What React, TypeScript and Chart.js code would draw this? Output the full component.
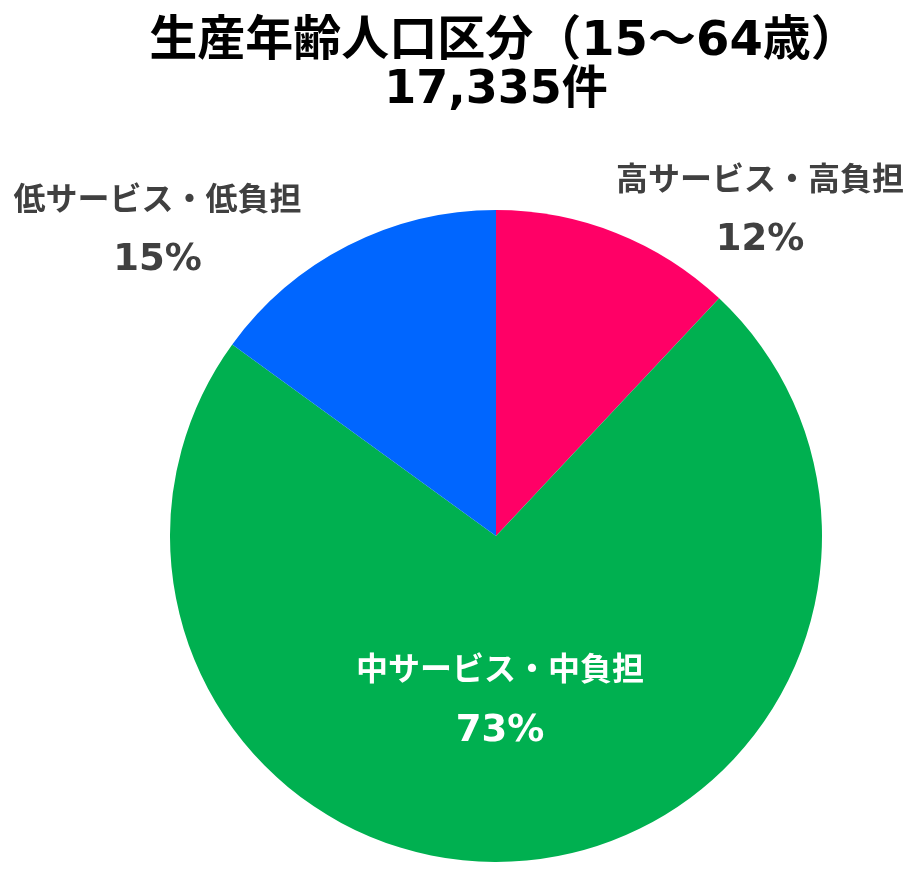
import { Chart, registerables } from "chart.js";
import type { Plugin } from "chart.js";
import { useEffect, useRef } from "react";

Chart.register(...registerables);

const titleLines = ["生産年齢人口区分（15～64歳）", "17,335件"];
const titleSizes = [48, 46];
const categories = ["高サービス・高負担", "中サービス・中負担", "低サービス・低負担"];
const shares = [12, 73, 15];
const sliceColors = ["#FF0066", "#00B050", "#0066FF"];
const labelColors = ["#404040", "#FFFFFF", "#404040"];
// label block placement: angle shift from slice middle (deg), distance as share of radius
const labelShift = [17.5, 4, -21];
const labelDistance = [1.284, 0.508, 1.397];

const FONT = "'DejaVu Sans', 'Noto Sans CJK JP', sans-serif";

const textPlugin: Plugin<"pie"> = {
  id: "pieText",
  afterDraw(chart) {
    const { ctx, chartArea } = chart;
    const cx = (chartArea.left + chartArea.right) / 2;
    ctx.save();
    ctx.textAlign = "center";
    ctx.textBaseline = "middle";

    ctx.fillStyle = "#000000";
    titleLines.forEach((line, i) => {
      ctx.font = `bold ${titleSizes[i]}px ${FONT}`;
      // the full-width brackets leave uneven side bearings, nudge line 1 right
      ctx.fillText(line, cx + (i === 0 ? 8 : 0), 43 + i * 48);
    });

    const meta = chart.getDatasetMeta(0);
    meta.data.forEach((el, i) => {
      const arc = el.getProps(["x", "y", "startAngle", "endAngle", "outerRadius"], true) as any;
      const mid = (arc.startAngle + arc.endAngle) / 2 + (labelShift[i] * Math.PI) / 180;
      const r = arc.outerRadius * labelDistance[i];
      const x = arc.x + Math.cos(mid) * r;
      const y = arc.y + Math.sin(mid) * r;
      ctx.fillStyle = labelColors[i];
      ctx.font = `bold 32px ${FONT}`;
      ctx.fillText(categories[i], x, y - 29.5);
      ctx.font = `bold 37px ${FONT}`;
      ctx.fillText(`${shares[i]}%`, x, y + 29.5);
    });
    ctx.restore();
  },
};

export default function App() {
  const canvasRef = useRef<HTMLCanvasElement>(null);

  useEffect(() => {
    document.body.style.margin = "0";
    const chart = new Chart(canvasRef.current!, {
      type: "pie",
      data: {
        labels: categories,
        datasets: [
          {
            data: shares,
            backgroundColor: sliceColors,
            borderWidth: 0,
          },
        ],
      },
      options: {
        animation: false,
        responsive: true,
        maintainAspectRatio: false,
        layout: {
          padding: { top: 210, left: 170, right: 93, bottom: 18 },
        },
        plugins: {
          legend: { display: false },
          tooltip: { enabled: false },
        },
      },
      plugins: [textPlugin],
    });

    return () => chart.destroy();
  }, []);

  return (
    <div style={{ position: "relative", width: 915, height: 880, background: "#ffffff" }}>
      <canvas ref={canvasRef}></canvas>
    </div>
  );
}
